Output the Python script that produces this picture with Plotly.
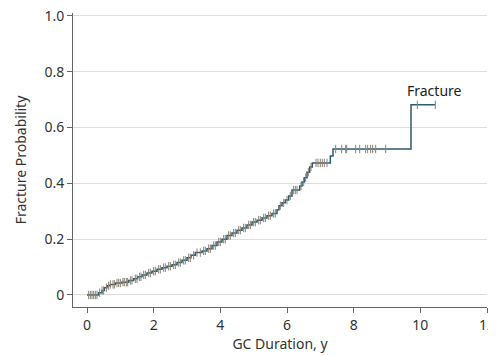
import numpy as np
import plotly.graph_objects as go

# Step function of cumulative fracture probability
event_times = [0, 0.35, 0.45, 0.52, 0.6, 0.7, 0.85, 1.05, 1.25, 1.4, 1.52, 1.65, 1.8, 1.95,
               2.1, 2.25, 2.4, 2.55, 2.7, 2.85, 3.0, 3.12, 3.25, 3.45, 3.6, 3.75, 3.9, 4.05,
               4.2, 4.35, 4.5, 4.65, 4.8, 4.95, 5.1, 5.25, 5.4, 5.55, 5.7, 5.76, 5.85, 5.95,
               6.05, 6.15, 6.38, 6.45, 6.52, 6.6, 6.68, 6.76, 7.3, 7.38, 9.72]
event_probs = [0, 0.008, 0.016, 0.026, 0.033, 0.038, 0.043, 0.046, 0.052, 0.058, 0.065, 0.072,
               0.079, 0.085, 0.092, 0.098, 0.103, 0.108, 0.116, 0.124, 0.133, 0.142, 0.152,
               0.158, 0.166, 0.177, 0.19, 0.2, 0.213, 0.222, 0.232, 0.24, 0.251, 0.261, 0.268,
               0.276, 0.284, 0.292, 0.305, 0.32, 0.33, 0.34, 0.355, 0.376, 0.39, 0.405, 0.42,
               0.44, 0.458, 0.473, 0.498, 0.523, 0.681]
end_time = 10.45

censor_times = [0.05, 0.1, 0.15, 0.2, 0.25, 0.3, 0.38, 0.45, 0.5, 0.58, 0.65, 0.7, 0.78, 0.82,
                0.9, 0.95, 1.0, 1.08, 1.12, 1.18, 1.22, 1.3, 1.35, 1.45, 1.5, 1.58, 1.62, 1.7,
                1.75, 1.85, 1.9, 2.0, 2.05, 2.15, 2.2, 2.3, 2.35, 2.45, 2.5, 2.6, 2.65, 2.75,
                2.8, 2.9, 2.95, 3.05, 3.1, 3.2, 3.3, 3.4, 3.5, 3.55, 3.65, 3.7, 3.8, 3.85,
                3.95, 4.0, 4.1, 4.15, 4.25, 4.3, 4.4, 4.45, 4.55, 4.6, 4.7, 4.75, 4.85, 4.9,
                5.0, 5.05, 5.15, 5.2, 5.3, 5.35, 5.45, 5.5, 5.6, 5.65, 5.8, 5.9, 6.0, 6.1,
                6.2, 6.25, 6.3, 6.42, 6.5, 6.56, 6.64, 6.72, 6.87, 6.93, 7.0, 7.06, 7.12,
                7.2, 7.46, 7.64, 7.76, 7.79, 8.06, 8.18, 8.36, 8.42, 8.51, 8.57, 8.66, 8.96,
                9.91, 10.45]

x_ticks = [0, 2, 4, 6, 8, 10, 12]
y_ticks = [0, 0.2, 0.4, 0.6, 0.8, 1.0]
y_ticklabels = ["0", "0.2", "0.4", "0.6", "0.8", "1.0"]

line_x = event_times + [end_time]
line_y = event_probs + [event_probs[-1]]

et = np.array(event_times)
ep = np.array(event_probs)
idx = np.searchsorted(et, np.array(censor_times), side="right") - 1
censor_y = ep[idx]

FONT = "Noto Sans"
CENSOR = "#8c8376"
fig = go.Figure()
fig.add_trace(go.Scatter(x=line_x, y=line_y, mode="lines", line_shape="hv",
                         line=dict(color="#2b5b6e", width=1.5), hoverinfo="skip",
                         showlegend=False))
fig.add_trace(go.Scatter(x=censor_times, y=censor_y, mode="markers",
                         marker=dict(symbol="line-ns-open", size=6, color=CENSOR,
                                     line=dict(color=CENSOR, width=1)),
                         showlegend=False))
fig.add_annotation(x=9.55, y=0.732, text="Fracture", showarrow=False, xanchor="left",
                   yanchor="middle", font=dict(family=FONT, size=14, color="#222"))

# page body has an 8px margin, so the figure is sized to fit the remaining window
fig.update_layout(
    width=488, height=348,
    margin=dict(l=65, r=9, t=5, b=49, autoexpand=False),
    paper_bgcolor="white", plot_bgcolor="white",
    font=dict(family=FONT, size=14, color="#333"),
)
fig.update_xaxes(range=[-0.42, 12.0], tickvals=x_ticks, ticks="outside", ticklen=5,
                 tickcolor="#666", showline=True, linecolor="#666", linewidth=1,
                 showgrid=False, zeroline=False, automargin=False,
                 ticklabeloverflow="allow",
                 title=dict(text="GC Duration, y", standoff=6, font=dict(size=14)))
fig.update_yaxes(range=[-0.043, 1.01], tickvals=y_ticks, ticktext=y_ticklabels,
                 ticks="outside", ticklen=5, tickcolor="#666", showline=True,
                 linecolor="#666", linewidth=1, showgrid=True, gridcolor="#dedede",
                 zeroline=False, automargin=False, ticklabeloverflow="allow",
                 title=dict(text="Fracture Probability", standoff=14, font=dict(size=14)))

fig.write_html("out.html",
               post_script="document.documentElement.style.overflow='hidden';"
                           "document.body.style.overflow='hidden';"
                           "document.querySelectorAll('svg.main-svg, .svg-container')"
                           ".forEach(function(s){s.style.overflow='visible';});")
